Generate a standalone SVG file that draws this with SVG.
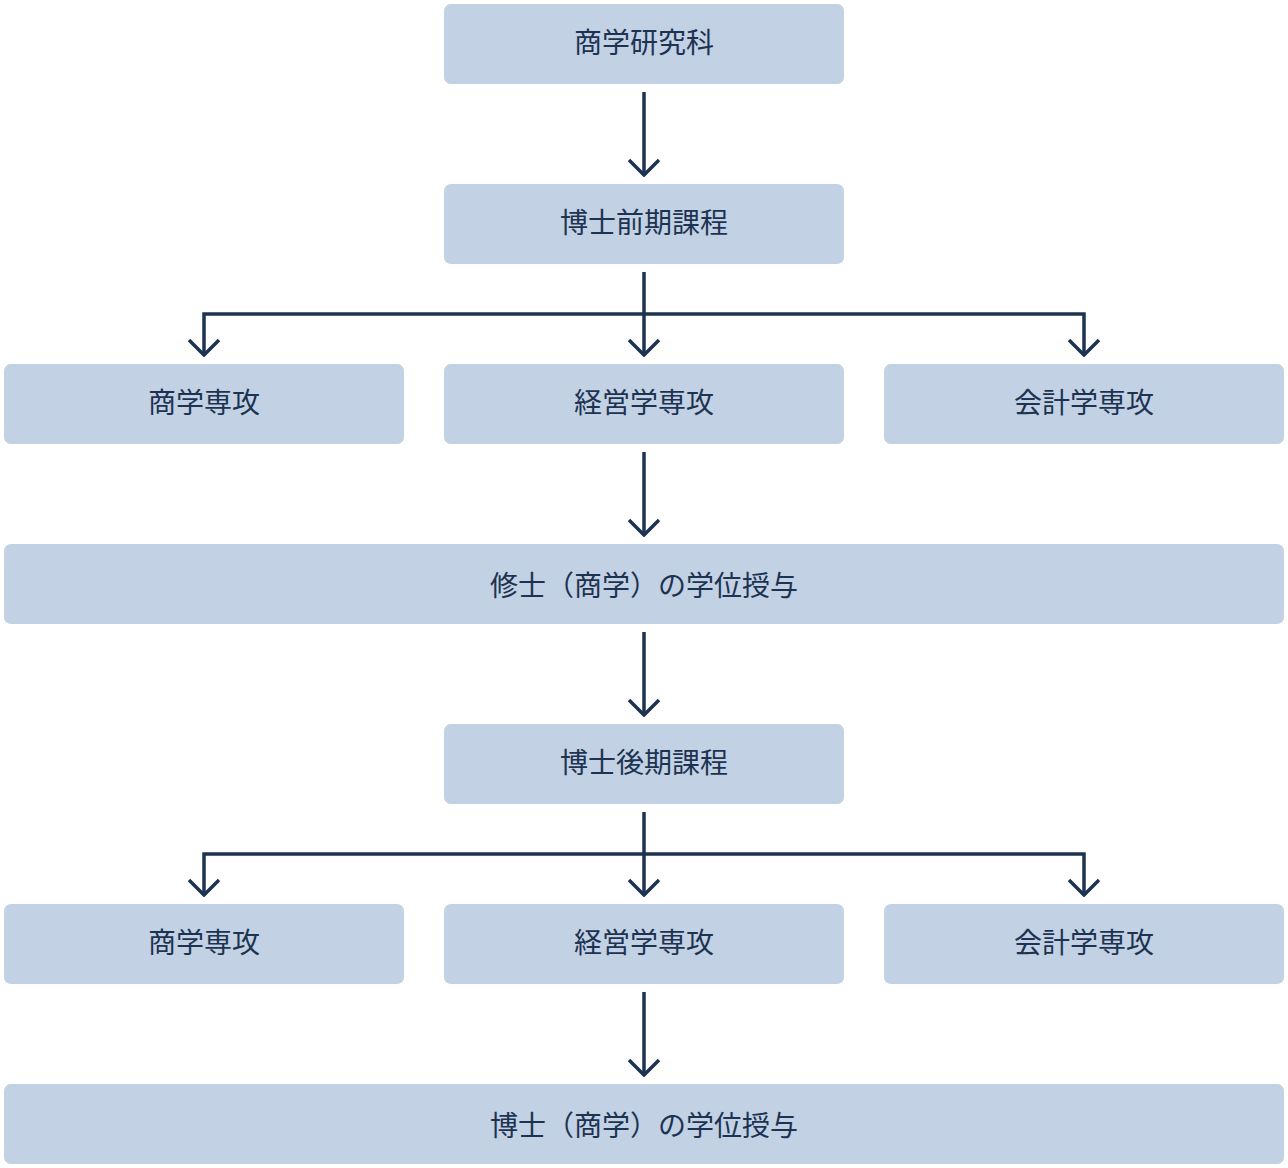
<svg xmlns="http://www.w3.org/2000/svg" width="1288" height="1168" viewBox="0 0 1288 1168">
<style>
.box{fill:#c2d1e3}
.lbl{font-family:"Noto Sans CJK JP","Noto Sans CJK SC",sans-serif;font-size:28px;fill:#1d3352;text-anchor:middle;dominant-baseline:central}
.ln{fill:none;stroke:#1d3352;stroke-width:3.5}
</style>
<defs>
<marker id="ah" markerUnits="userSpaceOnUse" viewBox="-17 -17 19 34" refX="0" refY="0" markerWidth="19" markerHeight="34" orient="auto">
<path d="M-15,-15 L0,0 L-15,15" fill="none" stroke="#1d3352" stroke-width="3.5"/>
</marker>
</defs>
<rect width="1288" height="1168" fill="#ffffff"/>
<g id="n1"><rect class="box" x="444" y="4" width="400" height="80" rx="7"/><text class="lbl" x="644" y="41">商学研究科</text></g>
<g id="n2"><rect class="box" x="444" y="184" width="400" height="80" rx="7"/><text class="lbl" x="644" y="221">博士前期課程</text></g>
<g id="n3"><rect class="box" x="4" y="364" width="400" height="80" rx="7"/><text class="lbl" x="204" y="401">商学専攻</text></g>
<g id="n4"><rect class="box" x="444" y="364" width="400" height="80" rx="7"/><text class="lbl" x="644" y="401">経営学専攻</text></g>
<g id="n5"><rect class="box" x="884" y="364" width="400" height="80" rx="7"/><text class="lbl" x="1084" y="401">会計学専攻</text></g>
<g id="n6"><rect class="box" x="4" y="544" width="1280" height="80" rx="7"/><text class="lbl" x="644" y="584">修士（商学）の学位授与</text></g>
<g id="n7"><rect class="box" x="444" y="724" width="400" height="80" rx="7"/><text class="lbl" x="644" y="761">博士後期課程</text></g>
<g id="n8"><rect class="box" x="4" y="904" width="400" height="80" rx="7"/><text class="lbl" x="204" y="941">商学専攻</text></g>
<g id="n9"><rect class="box" x="444" y="904" width="400" height="80" rx="7"/><text class="lbl" x="644" y="941">経営学専攻</text></g>
<g id="n10"><rect class="box" x="884" y="904" width="400" height="80" rx="7"/><text class="lbl" x="1084" y="941">会計学専攻</text></g>
<g id="n11"><rect class="box" x="4" y="1084" width="1280" height="80" rx="7"/><text class="lbl" x="644" y="1124">博士（商学）の学位授与</text></g>
<g id="connectors">
<path class="ln" d="M644,92 V175" marker-end="url(#ah)"/>
<path class="ln" d="M644,272 V355" marker-end="url(#ah)"/>
<path class="ln" d="M644,314 H204 V355" marker-end="url(#ah)"/>
<path class="ln" d="M644,314 H1084 V355" marker-end="url(#ah)"/>
<path class="ln" d="M644,452 V535" marker-end="url(#ah)"/>
<path class="ln" d="M644,632 V715" marker-end="url(#ah)"/>
<path class="ln" d="M644,812 V895" marker-end="url(#ah)"/>
<path class="ln" d="M644,854 H204 V895" marker-end="url(#ah)"/>
<path class="ln" d="M644,854 H1084 V895" marker-end="url(#ah)"/>
<path class="ln" d="M644,992 V1075" marker-end="url(#ah)"/>
</g>
</svg>
